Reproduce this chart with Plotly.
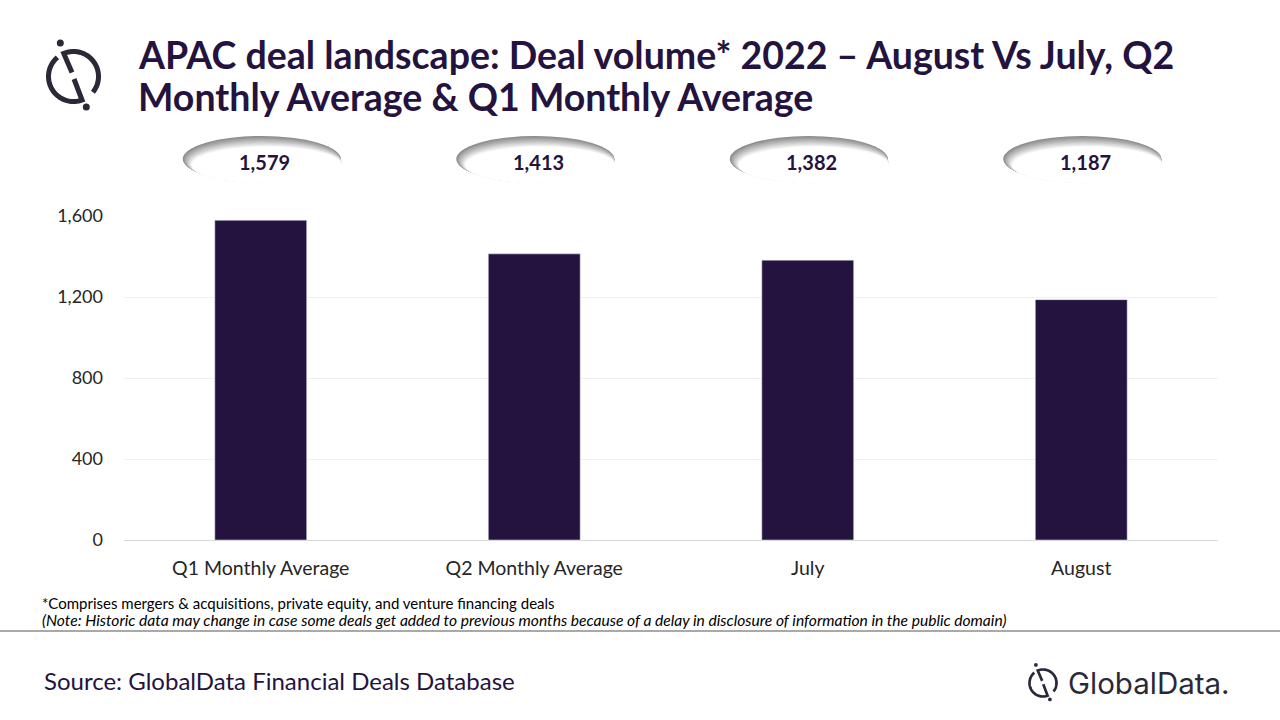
import numpy as np
import plotly.graph_objects as go

categories = ["Q1 Monthly Average", "Q2 Monthly Average", "July", "August"]
deal_volume = [1579, 1413, 1382, 1187]
y_ticks = [0, 400, 800, 1200, 1600]

title_lines = [
    "APAC deal landscape: Deal volume* 2022 \u2013 August Vs July, Q2",
    "Monthly Average & Q1 Monthly Average",
]
footnote = "*Comprises mergers & acquisitions, private equity, and venture financing deals"
note = ("(Note: Historic data may change in case some deals get added to previous months "
        "because of a delay in disclosure of information in the public domain)")
source = "Source: GlobalData Financial Deals Database"

PURPLE = "#25133f"
INK = "#2b2838"
FONT = "Lato"

# plot area in page pixels
L, R, T, B = 124, 1218, 216, 540


def px(x):
    return (x - L) / (R - L)


def py(y):
    return (B - y) / (B - T)


def poly_path(points):
    return "M " + " L ".join(f"{px(x):.5f},{py(y):.5f}" for x, y in points)


def arc(cx, cy, r, a0, a1, n=40):
    a = np.radians(np.linspace(a0, a1, n))
    return [(cx + r * np.cos(t), cy - r * np.sin(t)) for t in a]


def logo_icon(cx, cy, s):
    """GlobalData mark: split circle with a broken slash and two dots"""
    r, lw, dr = 25 * s, 5 * s, 3.5 * s
    line = dict(color=INK, width=lw)
    left = arc(cx, cy, r, 130, 290) + [(cx + 0.5 * s, cy + 2.5 * s)]
    right = [(cx - 1.5 * s, cy - 4 * s)] + arc(cx, cy, r, 113, -39)
    out = []
    for pts in (left, right):
        out.append(dict(type="path", xref="paper", yref="paper", path=poly_path(pts), line=line))
    for dx, dy in [(-13.2, -33.5), (12.8, 30.5)]:
        x, y = cx + dx * s, cy + dy * s
        out.append(dict(type="circle", xref="paper", yref="paper",
                        x0=px(x - dr), x1=px(x + dr), y0=py(y + dr), y1=py(y - dr),
                        fillcolor=INK, line=dict(width=0)))
    return out


def bubble(cx, cy, rx, ry, layers=14):
    """grey ellipse with a soft inner shadow on the upper left"""
    out = []
    for k in range(layers):
        t = k / (layers - 1)
        g = int(140 + 115 * t)
        ex = cx + 5 * t
        ey = cy + 6 * t
        hx = rx * (1 - 0.05 * t)
        hy = ry * (1 - 0.2 * t)
        out.append(dict(type="circle", xref="paper", yref="paper",
                        x0=px(ex - hx), x1=px(ex + hx), y0=py(ey + hy), y1=py(ey - hy),
                        fillcolor=f"rgb({g},{g},{g})", line=dict(width=0), layer="below"))
    return out


fig = go.Figure()
fig.add_trace(go.Bar(x=categories, y=deal_volume, marker_color=PURPLE, hoverinfo="x+y"))

shapes = []
n = len(categories)
for i, v in enumerate(deal_volume):
    cx = L + (i + 0.5) * (R - L) / n + 1
    shapes += bubble(cx, 159, 79, 23)
shapes += logo_icon(73.5, 76.5, 1.0)
shapes += logo_icon(1043, 683, 0.54)
shapes.append(dict(type="line", xref="paper", yref="paper", x0=px(0), x1=px(1280),
                   y0=py(631), y1=py(631), line=dict(color="#8c8c8c", width=1.3)))

annotations = []
for i, v in enumerate(deal_volume):
    annotations.append(dict(x=categories[i], y=py(162), xref="x", yref="paper", xshift=4,
                            xanchor="center", yanchor="middle",
                            text=f"<b>{v:,}</b>", showarrow=False,
                            font=dict(family=FONT, size=20, color=PURPLE)))
for j, line_text in enumerate(title_lines):
    annotations.append(dict(x=px(136), y=py(54 + 43 * j), xref="paper", yref="paper",
                            xanchor="left", yanchor="middle", text=f"<b>{line_text}</b>",
                            showarrow=False, font=dict(family=FONT, size=37.5, color=PURPLE)))
annotations.append(dict(x=px(40), y=py(603), xref="paper", yref="paper", xanchor="left",
                        yanchor="middle", text=footnote, showarrow=False,
                        font=dict(family=FONT, size=15, color="#000000")))
annotations.append(dict(x=px(40), y=py(620), xref="paper", yref="paper", xanchor="left",
                        yanchor="middle", text=f"<i>{note}</i>", showarrow=False,
                        font=dict(family=FONT, size=15.6, color="#000000")))
annotations.append(dict(x=px(42), y=py(680), xref="paper", yref="paper", xanchor="left",
                        yanchor="middle", text=source, showarrow=False,
                        font=dict(family=FONT, size=24, color=PURPLE)))
annotations.append(dict(x=px(1066), y=py(683), xref="paper", yref="paper", xanchor="left",
                        yanchor="middle", text="GlobalData.", showarrow=False,
                        font=dict(family="Inter", size=29.5, color=INK)))

fig.update_layout(
    width=1280,
    height=720,
    margin=dict(l=L, r=1280 - R, t=T, b=720 - B, pad=0),
    paper_bgcolor="white",
    plot_bgcolor="white",
    bargap=0.664,
    showlegend=False,
    shapes=shapes,
    annotations=annotations,
    font=dict(family=FONT, color="#262626"),
)
fig.update_xaxes(
    showline=True,
    linecolor="#d9d9d9",
    linewidth=1,
    showgrid=False,
    ticks="",
    ticklabelstandoff=11,
    tickfont=dict(family=FONT, size=19.5, color="#262626"),
)
fig.update_yaxes(
    range=[0, 1600],
    tickvals=y_ticks,
    tickformat=",",
    showgrid=True,
    gridcolor="#f0f0f0",
    zeroline=False,
    ticks="",
    ticklabelstandoff=20,
    tickfont=dict(family=FONT, size=18, color="#262626"),
)

fig.write_html("out.html", config={"displayModeBar": False},
               post_script="document.body.style.margin = '0';")
